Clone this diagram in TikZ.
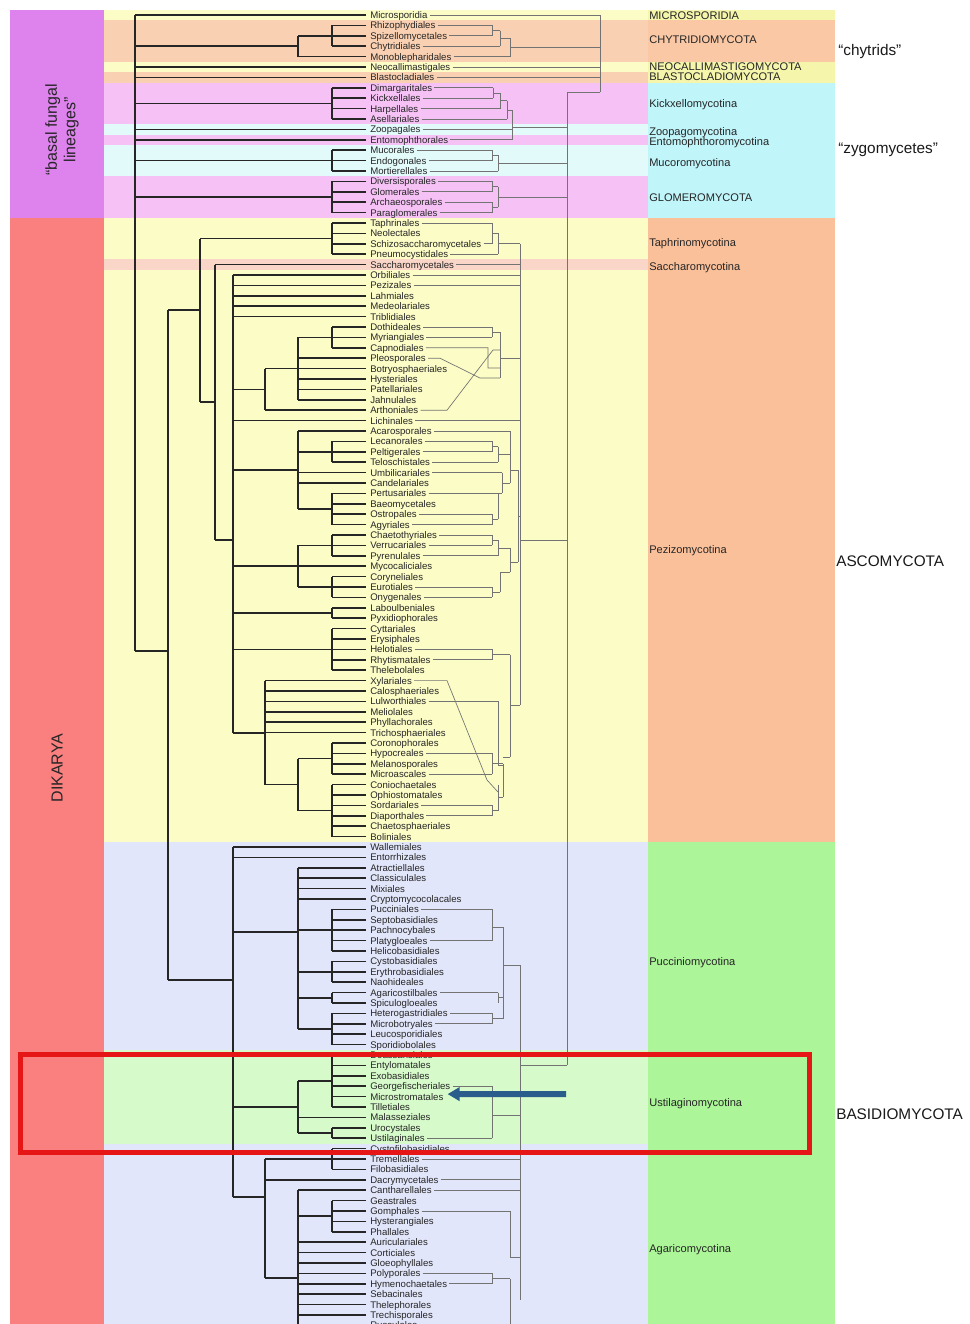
\documentclass[tikz,border=0pt]{standalone}
\usepackage{fontspec}
\setmainfont{Liberation Sans}
\usetikzlibrary{arrows.meta,calc}
\definecolor{cMag}{RGB}{222,130,238}
\definecolor{cRed}{RGB}{250,128,128}
\definecolor{cYel}{RGB}{252,252,198}
\definecolor{cSal}{RGB}{250,208,178}
\definecolor{cPink}{RGB}{246,194,246}
\definecolor{cCyL}{RGB}{226,250,250}
\definecolor{cSacc}{RGB}{250,214,200}
\definecolor{cLav}{RGB}{226,230,250}
\definecolor{cGrnL}{RGB}{214,250,202}
\definecolor{cYelR}{RGB}{245,245,172}
\definecolor{cSalR}{RGB}{250,200,165}
\definecolor{cCyR}{RGB}{192,245,250}
\definecolor{cAsco}{RGB}{250,192,154}
\definecolor{cBasi}{RGB}{172,245,152}
\definecolor{cBox}{RGB}{230,22,22}
\definecolor{cArrow}{RGB}{42,92,140}
\newcommand\lf[2]{\draw[tree] (#1,0 |- l#2) -- (l#2);}
\newcommand\vb[3]{\draw[tree] (#1,#2) -- (#1,#3);}
\newcommand\nd[4]{\coordinate (#1) at (#2,#3); \draw[tree] (#4,0 |- #1) -- (#1);}
\newcommand\rl[2]{\draw[tr2,shorten <=1.5pt] (t#1.east |- l#1) -- (#2,0 |- l#1);}
\newcommand\rv[3]{\draw[tr2] (#1,#2) -- (#1,#3);}
\newcommand\rh[3]{\draw[tr2] (#1,#3) -- (#2,#3);}
\begin{document}
\begin{tikzpicture}[x=0.75pt,y=-0.75pt,
  tree/.style={draw=black!85,line width=1.1pt},
  tr2/.style={draw=black!55,line width=0.5pt},
  taxon/.style={anchor=base west,inner sep=0pt,font=\fontsize{7.2}{8}\selectfont,text=black!85},
  grp/.style={anchor=base west,inner sep=0pt,font=\fontsize{8.3}{9}\selectfont,text=black!85},
  big/.style={anchor=base west,inner sep=0pt,font=\fontsize{11.5}{13}\selectfont,text=black!90},
  side/.style={rotate=90,inner sep=0pt,align=center,font=\fontsize{12}{14}\selectfont,text=black!85},
]
\useasboundingbox (0,0) rectangle (970,1324);
\clip (0,0) rectangle (970,1324);
\fill[white] (0,0) rectangle (970,1324);
% far left column
\fill[cMag] (10,10) rectangle (104,217.8);
\fill[cRed] (10,217.8) rectangle (104,1324);
% main bands
\fill[cYel]  (104,10) rectangle (648,20.2);
\fill[cSal]  (104,20.2) rectangle (648,61.8);
\fill[cYel]  (104,61.8) rectangle (648,72.2);
\fill[cSal]  (104,72.2) rectangle (648,82.6);
\fill[cPink] (104,82.6) rectangle (648,124.2);
\fill[cCyL]  (104,124.2) rectangle (648,134.6);
\fill[cPink] (104,134.6) rectangle (648,145);
\fill[cCyL]  (104,145) rectangle (648,176.2);
\fill[cPink] (104,176.2) rectangle (648,217.8);
\fill[cYel]  (104,217.8) rectangle (648,842.2);
\fill[cSacc] (104,259.4) rectangle (648,269.8);
\fill[cLav]  (104,842.2) rectangle (648,1050.2);
\fill[cGrnL] (104,1050.2) rectangle (648,1143.8);
\fill[cLav]  (104,1143.8) rectangle (648,1324);
% right column
\fill[cYelR] (648,10) rectangle (835,20.2);
\fill[cSalR] (648,20.2) rectangle (835,61.8);
\fill[cYelR] (648,61.8) rectangle (835,82.6);
\fill[cCyR]  (648,82.6) rectangle (835,217.8);
\fill[cAsco] (648,217.8) rectangle (835,842.2);
\fill[cBasi] (648,842.2) rectangle (835,1324);

% taxa
\foreach \nm [count=\i] in {Microsporidia, Rhizophydiales, Spizellomycetales, Chytridiales, Monoblepharidales, Neocallimastigales, Blastocladiales, Dimargaritales, Kickxellales, Harpellales, Asellariales, Zoopagales, Entomophthorales, Mucorales, Endogonales, Mortierellales, Diversisporales, Glomerales, Archaeosporales, Paraglomerales, Taphrinales, Neolectales, Schizosaccharomycetales, Pneumocystidales, Saccharomycetales, Orbiliales, Pezizales, Lahmiales, Medeolariales, Triblidiales, Dothideales, Myriangiales, Capnodiales, Pleosporales, Botryosphaeriales, Hysteriales, Patellariales, Jahnulales, Arthoniales, Lichinales, Acarosporales, Lecanorales, Peltigerales, Teloschistales, Umbilicariales, Candelariales, Pertusariales, Baeomycetales, Ostropales, Agyriales, Chaetothyriales, Verrucariales, Pyrenulales, Mycocaliciales, Coryneliales, Eurotiales, Onygenales, Laboulbeniales, Pyxidiophorales, Cyttariales, Erysiphales, Helotiales, Rhytismatales, Thelebolales, Xylariales, Calosphaeriales, Lulworthiales, Meliolales, Phyllachorales, Trichosphaeriales, Coronophorales, Hypocreales, Melanosporales, Microascales, Coniochaetales, Ophiostomatales, Sordariales, Diaporthales, Chaetosphaeriales, Boliniales, Wallemiales, Entorrhizales, Atractiellales, Classiculales, Mixiales, Cryptomycocolacales, Pucciniales, Septobasidiales, Pachnocybales, Platygloeales, Helicobasidiales, Cystobasidiales, Erythrobasidiales, Naohideales, Agaricostilbales, Spiculogloeales, Heterogastridiales, Microbotryales, Leucosporidiales, Sporidiobolales, Doassansiales, Entylomatales, Exobasidiales, Georgefischeriales, Microstromatales, Tilletiales, Malasseziales, Urocystales, Ustilaginales, Cystofilobasidiales, Tremellales, Filobasidiales, Dacrymycetales, Cantharellales, Geastrales, Gomphales, Hysterangiales, Phallales, Auriculariales, Corticiales, Gloeophyllales, Polyporales, Hymenochaetales, Sebacinales, Thelephorales, Trechisporales, Russulales}
{
  \node[taxon] (t\i) at (370,{15+(\i-1)*10.4+3.4}) {\nm};
  \coordinate (l\i) at (366,{15+(\i-1)*10.4});
}

% ---------- left tree ----------
\vb{135}{15}{651}
\lf{135}{1}\lf{135}{6}\lf{135}{7}\lf{135}{12}\lf{135}{13}
\nd{c2}{298}{46.2}{135}\vb{298}{35.8}{56.6}\lf{298}{5}
\nd{c1}{332}{35.8}{298}\vb{332}{25.4}{46.2}\lf{332}{2}\lf{332}{3}\lf{332}{4}
\nd{kx}{332}{103.4}{135}\vb{332}{87.8}{119}\foreach \k in {8,...,11}{\lf{332}{\k}}
\nd{mu}{332}{160.6}{135}\vb{332}{150.2}{171}\foreach \k in {14,...,16}{\lf{332}{\k}}
\nd{gl}{332}{197}{135}\vb{332}{181.4}{212.6}\foreach \k in {17,...,20}{\lf{332}{\k}}
% Dikarya
\nd{dk}{168}{651}{135}\vb{168}{310}{980}
\nd{as}{200}{310}{168}\vb{200}{238.6}{402}
\nd{ta}{332}{238.6}{200}\vb{332}{223}{254.2}\foreach \k in {21,...,24}{\lf{332}{\k}}
\nd{sa}{215}{402}{200}\vb{215}{264.6}{540}\lf{215}{25}
\nd{pz}{233}{540}{215}\vb{233}{275}{733}\foreach \k in {26,...,30}{\lf{233}{\k}}
\nd{dar}{265}{389.4}{233}\vb{265}{368.6}{410.2}\lf{265}{39}
\nd{do}{298}{368.6}{265}\vb{298}{337.4}{399.8}\foreach \k in {34,...,38}{\lf{298}{\k}}
\nd{do1}{332}{337.4}{298}\vb{332}{327}{347.8}\foreach \k in {31,...,33}{\lf{332}{\k}}
\lf{233}{40}
\nd{le}{298}{470}{233}\vb{298}{431}{509}\lf{298}{41}\lf{298}{45}\lf{298}{46}
\nd{le1}{332}{451.8}{298}\vb{332}{441.4}{462.2}\foreach \k in {42,...,44}{\lf{332}{\k}}
\nd{le2}{332}{509}{298}\vb{332}{493.4}{524.6}\foreach \k in {47,...,50}{\lf{332}{\k}}
\nd{eu}{298}{566.2}{233}\vb{298}{545.4}{587}\lf{298}{54}
\nd{eu1}{332}{545.4}{298}\vb{332}{535}{555.8}\foreach \k in {51,...,53}{\lf{332}{\k}}
\nd{eu2}{332}{587}{298}\vb{332}{576.6}{597.4}\foreach \k in {55,...,57}{\lf{332}{\k}}
\nd{lb}{332}{613}{233}\vb{332}{607.8}{618.2}\lf{332}{58}\lf{332}{59}
\nd{lt}{332}{649.4}{233}\vb{332}{628.6}{670.2}\foreach \k in {60,...,64}{\lf{332}{\k}}
\nd{so}{265}{733}{233}\vb{265}{680.6}{784.6}\foreach \k in {65,...,70}{\lf{265}{\k}}
\nd{so3}{298}{784.6}{265}\vb{298}{758.6}{810.6}
\nd{so1}{332}{758.6}{298}\vb{332}{743}{774.2}\foreach \k in {71,...,74}{\lf{332}{\k}}
\nd{so2}{332}{810.6}{298}\vb{332}{784.6}{836.6}\foreach \k in {75,...,80}{\lf{332}{\k}}
% Basidiomycota
\nd{ba}{233}{980}{168}\vb{233}{847}{1197}\lf{233}{81}\lf{233}{82}
\nd{pu}{298}{932}{233}\vb{298}{867.8}{1029}\foreach \k in {83,...,86}{\lf{298}{\k}}
\nd{pu1}{332}{930.2}{298}\vb{332}{909.4}{951}\foreach \k in {87,...,91}{\lf{332}{\k}}
\nd{pu2}{332}{971.8}{298}\vb{332}{961.4}{982.2}\foreach \k in {92,...,94}{\lf{332}{\k}}
\nd{pu3}{332}{997.8}{298}\vb{332}{992.6}{1003}\lf{332}{95}\lf{332}{96}
\nd{pu4}{332}{1029}{298}\vb{332}{1013.4}{1044.6}\foreach \k in {97,...,100}{\lf{332}{\k}}
\nd{us}{298}{1107}{233}\vb{298}{1081}{1133}\lf{298}{107}
\nd{us1}{332}{1081}{298}\vb{332}{1055}{1107}\foreach \k in {101,...,106}{\lf{332}{\k}}
\nd{us2}{332}{1133}{298}\vb{332}{1127.8}{1138.2}\lf{332}{108}\lf{332}{109}
\nd{ag}{265}{1197}{233}\vb{265}{1159}{1278}\lf{265}{113}
\nd{ag1}{332}{1159}{265}\vb{332}{1148.6}{1169.4}\foreach \k in {110,...,112}{\lf{332}{\k}}
\nd{ag2}{298}{1278}{265}\vb{298}{1190.2}{1330}\lf{298}{114}\foreach \k in {119,...,127}{\lf{298}{\k}}
\nd{ag3}{332}{1216.2}{298}\vb{332}{1200.6}{1231.8}\foreach \k in {115,...,118}{\lf{332}{\k}}

% ---------- right (grey) tree ----------
\rl{1}{600}\rv{600}{15}{92}\rh{567}{600}{92}
\rl{2}{492}\rl{3}{492}\rv{492}{25.4}{35.8}\rh{492}{500}{30.6}
\rl{4}{500}\rv{500}{30.6}{46.2}\rh{500}{510}{38.4}
\rl{5}{510}\rv{510}{38.4}{56.6}\rh{510}{600}{47.5}
\rl{6}{600}\rl{7}{600}
\rl{8}{493}\rl{9}{493}\rv{493}{87.8}{98.2}\rh{493}{500}{93}
\rl{10}{500}\rv{500}{93}{108.6}\rh{500}{507}{100.8}
\rl{11}{507}\rv{507}{100.8}{119}\rh{507}{512}{110}
\rl{12}{512}\rl{13}{512}\rv{512}{110}{139.8}\rh{512}{567}{127}
\rl{14}{492}\rl{15}{492}\rv{492}{150.2}{160.6}\rh{492}{498}{155.4}
\rl{16}{498}\rv{498}{155.4}{171}\rh{498}{567}{163}
\rl{17}{492}\rl{18}{492}\rv{492}{181.4}{191.8}
\rl{19}{492}\rl{20}{492}\rv{492}{202.2}{212.6}
\rh{492}{498}{186.6}\rh{492}{498}{207.4}\rv{498}{186.6}{207.4}\rh{498}{567}{197}
\rv{567}{92}{1065}
\rl{21}{492}\rl{23}{492}\rv{492}{223}{243.8}\rh{492}{498}{233.4}
\rl{24}{498}\rv{498}{233.4}{254.2}\rh{498}{520}{243.8}
\rl{25}{520}\rl{26}{520}\rl{27}{520}
\rl{31}{492}\rl{32}{492}\rv{492}{327}{337.4}\rh{492}{500}{332}
\draw[tr2,shorten <=1.5pt] (t33.east |- l33) -- (488,347.8) -- (488,368) -- (500,368);
\draw[tr2,shorten <=1.5pt] (t34.east |- l34) -- (440,358.2) -- (480,378) -- (500,378);
\draw[tr2,shorten <=1.5pt] (t39.east |- l39) -- (447,410.2) -- (493,350) -- (500,350);
\rv{500}{332}{378}\rh{500}{520}{358}
\rl{40}{520}
\rl{41}{510}
\rl{42}{492}\rl{43}{492}\rv{492}{441.4}{451.8}\rh{492}{498}{446.6}
\rl{44}{498}\rv{498}{446.6}{462.2}\rh{498}{510}{454}
\rl{45}{502}\rv{502}{472.6}{493}\rh{502}{510}{483}
\rl{47}{498}
\rl{49}{492}\rl{50}{492}\rv{492}{514.2}{524.6}\rh{492}{498}{519.4}
\rv{498}{493.4}{519.4}\rh{498}{502}{493}
\rv{510}{431}{483}\rh{510}{518}{470}
\rl{51}{492}\rl{52}{492}\rv{492}{535}{545.4}\rh{492}{498}{540.2}
\rl{53}{498}\rv{498}{540.2}{555.8}\rh{498}{510}{548}
\rl{56}{492}\rl{57}{492}\rv{492}{587}{597.4}\rh{492}{500}{592}
\rv{500}{572}{592}\rh{500}{510}{572}\rv{510}{548}{572}\rh{510}{518}{562}
\rv{518}{470}{562}\rh{518}{520}{516}
\rl{62}{492}\rl{63}{492}\rv{492}{649.4}{659.8}\rh{492}{510}{654.6}
\rv{510}{654.6}{757}\rh{510}{520}{705}
\rl{67}{498}\rv{498}{701.4}{765}\rh{498}{503}{765}
\draw[tr2,shorten <=1.5pt] (t65.east |- l65) -- (447,680.6) -- (487,780) -- (498,792);
\rl{72}{492}\rl{74}{492}\rv{492}{753.4}{774.2}\rh{492}{503}{763.8}
\rl{77}{492}\rl{78}{492}\rv{492}{805.4}{815.8}\rh{492}{498}{810.6}
\rv{498}{784.6}{810.6}\rh{498}{503}{797}
\rv{503}{763.8}{797}\rh{503}{510}{757}
\rv{520}{243.8}{705}\rh{520}{567}{540}
\rl{87}{492}\rl{90}{492}\rv{492}{909.4}{940.6}\rh{492}{503}{927}
\rl{95}{498}\rv{498}{992.6}{1003}\rh{498}{503}{997.8}
\rl{97}{492}\rl{98}{492}\rv{492}{1013.4}{1023.8}\rh{492}{503}{1018.6}
\rv{503}{927}{1018.6}\rh{503}{520}{965}
\rl{104}{492}\rl{109}{492}\rv{492}{1086.2}{1138.2}\rh{492}{520}{1115}
\rl{111}{520}\rl{113}{520}\rl{114}{520}
\rl{116}{510}\rv{510}{1211}{1257}\rh{510}{520}{1257}
\rl{122}{492}\rl{123}{492}\rv{492}{1273.4}{1283.8}\rh{492}{510}{1278.6}
\rv{510}{1278.6}{1330}
\rv{520}{965}{1300}\rh{520}{567}{1065}

% ---------- group labels ----------
\node[grp] (gMic) at (649,19) {MICROSPORIDIA};
\node[grp] (gChy) at (649,43) {CHYTRIDIOMYCOTA};
\node[grp] (gNeo) at (649,70) {NEOCALLIMASTIGOMYCOTA};
\node[grp] (gBla) at (649,80) {BLASTOCLADIOMYCOTA};
\node[grp] (gKic) at (649,107) {Kickxellomycotina};
\node[grp] (gZoo) at (649,135) {Zoopagomycotina};
\node[grp] (gEnt) at (649,145) {Entomophthoromycotina};
\node[grp] (gMuc) at (649,166) {Mucoromycotina};
\node[grp] (gGlo) at (649,201) {GLOMEROMYCOTA};
\node[grp] (gTap) at (649,246) {Taphrinomycotina};
\node[grp] (gSac) at (649,270) {Saccharomycotina};
\node[grp] (gPez) at (649,553) {Pezizomycotina};
\node[grp] (gPuc) at (649,965) {Pucciniomycotina};
\node[grp] (gUst) at (649,1106) {Ustilaginomycotina};
\node[grp] (gAga) at (649,1252) {Agaricomycotina};
\node[big] (fChy) at (838,55) {“chytrids”};
\node[big] (fZyg) at (838,153) {“zygomycetes”};
\node[big] (fAsc) at (836,566) {ASCOMYCOTA};
\node[big] (fBas) at (836,1119) {BASIDIOMYCOTA};
\node[side] (sBas) at (62,130) {“basal fungal\\lineages”};
\node[side] (sDik) at (57,768) {DIKARYA};

% ---------- highlight ----------
\node[draw=cBox,line width=3.75pt,minimum width=789pt*0.75,minimum height=98pt*0.75,inner sep=0pt] (hbox) at (415,1103.5) {};
\coordinate (aS) at (566,1094);
\draw[cArrow,line width=4.5pt,-{Triangle[length=9pt,width=10pt]}] (aS) -- ($(t105.east |- l105)+(4,-2.5)$);
\end{tikzpicture}
\end{document}
